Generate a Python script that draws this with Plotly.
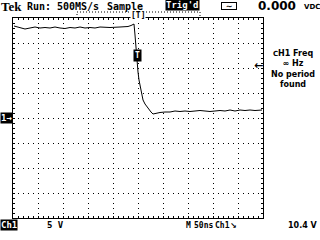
import plotly.graph_objects as go

# ---- waveform (time in ns relative to screen centre, volts) ----
t_ns = [-248, -236, -226, -216, -206, -196, -186, -176, -166, -156, -146, -136,
        -126, -116, -106, -96, -86, -76, -56, -36, -20, -14, -8,
        -6, -4, -2, 0, 2, 4, 6, 8, 10, 14, 18, 22, 26, 30, 34, 38,
        44, 54, 64, 74, 84, 94, 104, 114, 124, 134, 144, 154, 164, 174,
        184, 194, 204, 214, 224, 234, 248]
volts = [18.4, 18.0, 17.8, 18.0, 18.2, 18.0, 18.1, 18.0, 18.2, 18.0, 17.9, 18.1,
         18.0, 18.2, 18.0, 18.1, 18.0, 18.2, 18.1, 18.2, 18.3, 18.5, 18.8,
         16.6, 13.6, 11.2, 9.2, 7.6, 6.4, 5.6, 4.6, 3.6, 2.8, 2.2, 1.6, 1.2, 0.8, 0.9, 1.0,
         1.1, 1.2, 1.2, 1.4, 1.3, 1.4, 1.3, 1.4, 1.5, 1.4, 1.3, 1.4, 1.5, 1.4,
         1.6, 1.4, 1.6, 1.5, 1.6, 1.5, 1.6]

trig_level = 10.4          # V
trig_point = (-1, 12.5)    # T marker on trace
ground_level = 0.0
y_range = [-20, 20]
x_range = [-250, 250]

W, H = 320, 240
def px(x): return x / W
def py(y): return 1 - y / H

Y_DOM = [1 - 218 / H, 1 - 18 / H]
def v_to_paper(v):
    return Y_DOM[0] + (v - y_range[0]) / (y_range[1] - y_range[0]) * (Y_DOM[1] - Y_DOM[0])

MONO = "DejaVu Sans Mono"
SANS = "DejaVu Sans"

fig = go.Figure()
fig.add_trace(go.Scatter(x=t_ns, y=volts, mode="lines",
                         line=dict(color="black", width=1), hoverinfo="skip"))

axis_common = dict(showline=True, linecolor="black", linewidth=1, mirror="ticks",
                   ticks="inside", ticklen=2, tickcolor="black", tickwidth=1,
                   showticklabels=False, zeroline=False,
                   showgrid=True, gridcolor="black", gridwidth=1, griddash="1px,4px")

fig.update_layout(
    width=W, height=H, margin=dict(l=0, r=0, t=0, b=0),
    paper_bgcolor="white", plot_bgcolor="white", showlegend=False,
    xaxis=dict(range=x_range, domain=[13 / W, 263 / W], dtick=50, tick0=0,
               minor=dict(dtick=10, ticks="inside", ticklen=2, tickcolor="black", showgrid=False),
               **axis_common),
    yaxis=dict(range=y_range, domain=Y_DOM, dtick=5, tick0=0,
               minor=dict(dtick=1, ticks="inside", ticklen=2, tickcolor="black", showgrid=False),
               **axis_common),
)

# record-view bracket
fig.add_shape(type="path", xref="paper", yref="paper",
              path=f"M {px(77)} {py(18)} L {px(77)} {py(12)} L {px(200)} {py(12)} L {px(200)} {py(18)}",
              line=dict(color="black", width=1, dash="1px,2px"))

def ann(text, x, y, size=10, family=MONO, color="black", xanchor="left",
        bg=None, xref="paper", yref="paper", yanchor="middle", border=None, pad=0,
        width=None, height=None):
    d = dict(text=text, x=x, y=y, xref=xref, yref=yref, showarrow=False,
             xanchor=xanchor, yanchor=yanchor,
             font=dict(size=size, family=family, color=color), borderpad=pad)
    if bg:
        d["bgcolor"] = bg
    if border:
        d["bordercolor"] = border
        d["borderwidth"] = 1
    if width:
        d["width"] = width
    if height:
        d["height"] = height
    fig.add_annotation(**d)

# top status line
ann("<b>Tek</b>", px(0), py(6), size=13, family="Liberation Serif")
ann("<b>Run:</b>", px(26), py(6), size=10)
ann("<b>500MS/s</b>", px(56), py(6), size=10)
ann("<b>Sample</b>", px(106), py(6), size=10)
ann("<b>[T]</b>", px(137.5), py(15), size=8, xanchor="center", bg="white")
ann("<b>Trig'd</b>", px(182.5), py(4.5), size=9, color="white", xanchor="center", bg="black")
ann("<b>∼</b>", px(228.5), py(5.5), size=8, family=SANS, xanchor="center",
    border="black", pad=0, width=14, height=6)
ann("<b>0.000</b>", px(257), py(6), size=12, family=SANS)
ann("<b>VDC</b>", px(303), py(6.5), size=7, family=SANS)

# markers on the graticule
ann("<b>T</b>", trig_point[0], trig_point[1], size=8, color="white", xanchor="center",
    bg="black", xref="x", yref="y", pad=1)
ann("<b>1→</b>", px(0), v_to_paper(ground_level), size=9, color="white", bg="black", pad=0)
ann("<b>←</b>", px(263.5), v_to_paper(trig_level), size=11, family=SANS, color="black",
    xanchor="right")

# right side readout
ann("<b><span style='font-size:7px'>C</span>H1 Freq<br>∞ Hz<br>No period<br>found</b>",
    px(293), py(69), size=8, family=SANS, xanchor="center")

# bottom status line
ann("<b>Ch1</b>", px(0), py(224.5), size=9, color="white", bg="black")
ann("<b>5 V</b>", px(46), py(225), size=9)
ann("<b>M</b>", px(185), py(225), size=8)
ann("<b>50ns</b>", px(193), py(225), size=8)
ann("<b>Ch1</b>", px(214), py(225), size=8)
ann("<b>↘</b>", px(229), py(225), size=8, family=SANS)
ann("<b>10.4 V</b>", px(319), py(225), size=8, family=SANS, xanchor="right")

fig.write_html("out.html")
